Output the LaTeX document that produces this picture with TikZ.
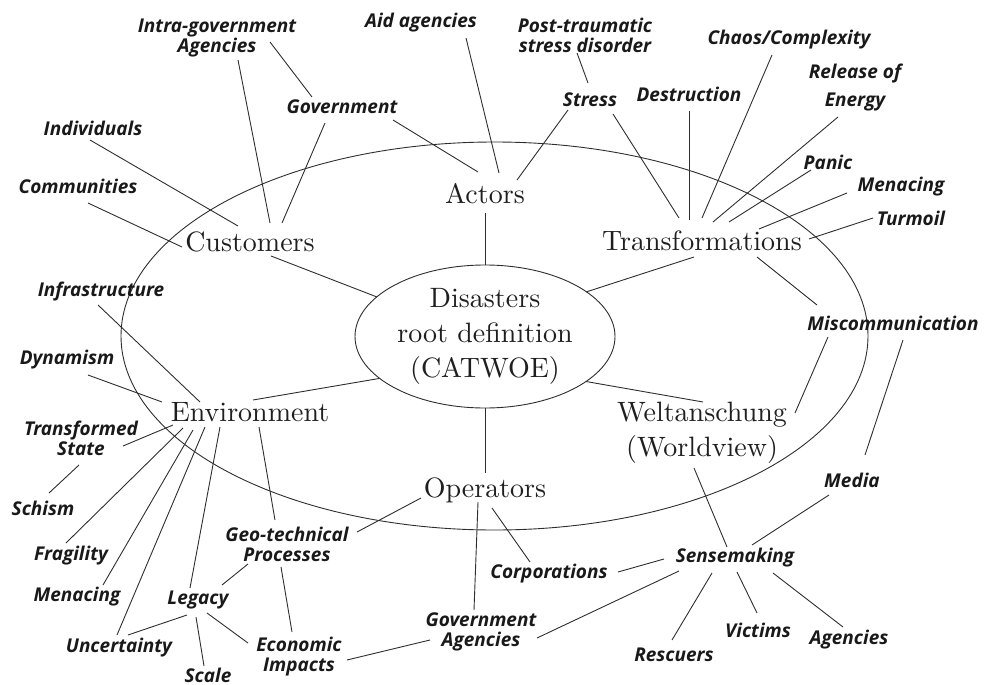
\documentclass[tikz,border=0pt]{standalone}
\usepackage{fontspec}
\newfontfamily\lblf{Open Sans}
\newfontfamily\serf{lmroman10-regular}[Extension=.otf]
\usetikzlibrary{calc}
\newcommand\conn[4]{\draw ($(#1)+(#2)$) -- ($(#3)+(#4)$);}
\begin{document}
\begin{tikzpicture}[x=1pt,y=-1pt,line width=0.9pt,color=black!82,
  ser/.style={font=\serf\fontsize{28}{35}\selectfont,align=center,inner sep=0pt,text=black!88},
  lbl/.style={font=\lblf\bfseries\itshape\fontsize{19}{20}\selectfont,align=center,inner sep=0pt,text=black!90}]
\useasboundingbox (0,0) rectangle (985,685);
% ellipses
\draw (494.5,336) ellipse [x radius=373.5, y radius=194];
\node[ser] (dis) at (485,336.5) {Disasters\\root definition\\(CATWOE)};
\draw (dis.center) ellipse [x radius=130, y radius=71.5];
% main nodes
\node[ser] (act) at (485,194) {Actors};
\node[ser] (cus) at (250,242) {Customers};
\node[ser] (tra) at (702,241) {Transformations};
\node[ser] (env) at (250,412) {Environment};
\node[ser] (ope) at (485,490) {Operators};
\node[ser] (wel) at (702,433) {Weltanschung\\(Worldview)};
% labels
\node[lbl] (intra) at (217,38) {Intra-government\\Agencies};
\node[lbl] (aid) at (421,23) {Aid agencies};
\node[lbl] (gov) at (342,107) {Government};
\node[lbl] (ind) at (93,128) {Individuals};
\node[lbl] (com) at (78,186) {Communities};
\node[lbl] (inf) at (101,292) {Infrastructure};
\node[lbl] (ptsd) at (585,35) {Post-traumatic\\stress disorder};
\node[lbl] (str) at (590,100) {Stress};
\node[lbl] (des) at (689,94) {Destruction};
\node[lbl] (cha) at (789,40) {Chaos/Complexity};
\node[lbl] (rel) at (855,88) {Release of\\[8pt]Energy};
\node[lbl] (pan) at (828,162) {Panic};
\node[lbl] (menr) at (901,187) {Menacing};
\node[lbl] (tur) at (911,218) {Turmoil};
\node[lbl] (mis) at (893,323) {Miscommunication};
\node[lbl] (med) at (852,480) {Media};
\node[lbl] (sen) at (735,558) {Sensemaking};
\node[lbl] (cor) at (549,574) {Corporations};
\node[lbl] (res) at (674,655) {Rescuers};
\node[lbl] (vic) at (758,630) {Victims};
\node[lbl] (age) at (849,640) {Agencies};
\node[lbl] (gag) at (481,632) {Government\\Agencies};
\node[lbl] (dyn) at (67,360) {Dynamism};
\node[lbl] (tst) at (81,438) {Transformed\\State};
\node[lbl] (sch) at (43,508) {Schism};
\node[lbl] (fra) at (71,556) {Fragility};
\node[lbl] (menl) at (77,597) {Menacing};
\node[lbl] (unc) at (119,648) {Uncertainty};
\node[lbl] (sca) at (208,675) {Scale};
\node[lbl] (leg) at (198,600) {Legacy};
\node[lbl] (eco) at (299,657) {Economic\\Impacts};
\node[lbl] (geo) at (287,544) {Geo-technical\\Processes};
% connectors
\conn{ind}{-3,12}{cus}{-12,-16}
\conn{com}{10,17}{cus}{-68,5}
\conn{intra}{21,22}{cus}{20,-19}
\conn{gov}{-17,16}{cus}{32,-19}
\conn{intra}{53,4}{gov}{-30,-10}
\conn{gov}{51,13}{act}{-7,-22}
\conn{cus}{21,14}{dis}{-108,-39.5}
\conn{aid}{45,15}{act}{14,-21}
\conn{act}{0,19}{dis}{0,-71.5}
\conn{str}{-22,10}{act}{32,-14}
\conn{ptsd}{-8,18}{str}{-2,-17}
\conn{str}{23,14}{tra}{-23,-23}
\conn{des}{0,17}{tra}{-13,-21}
\conn{cha}{-17,15}{tra}{0,-23}
\conn{rel}{-17,29}{tra}{11,-19}
\conn{pan}{-17,8}{tra}{27,-19}
\conn{menr}{-54,6}{tra}{57,-12}
\conn{tur}{-38,0}{tra}{107,-2}
\conn{tra}{-8,16}{dis}{101,-44.5}
\conn{tra}{55,16}{mis}{-76,-18}
\conn{mis}{-65,14}{wel}{93,-20}
\conn{mis}{10,17}{med}{13,-25}
\conn{dis}{101,45}{wel}{1,-31}
\conn{wel}{-8,35}{sen}{-8,-11}
\conn{med}{-23,15}{sen}{17,-13}
\conn{sen}{-71,1}{cor}{69,-2}
\conn{sen}{-56,13}{gag}{56,6}
\conn{sen}{-23,15}{res}{-2,-15}
\conn{sen}{2,14}{vic}{-1,-17}
\conn{sen}{38,15}{age}{-6,-13}
\conn{ope}{7,18}{cor}{-19,-12}
\conn{dis}{0,71.5}{ope}{0,-17}
\conn{ope}{-7,12}{gag}{-7,-22}
\conn{ope}{-64,8}{geo}{70,-12}
\conn{gag}{-51,8}{eco}{48,3}
\conn{dis}{-106,42}{env}{3,-12}
\conn{inf}{-3,13}{env}{-50,-10}
\conn{dyn}{21,15}{env}{-88,-10}
\conn{tst}{42,8}{env}{-77,13}
\conn{sch}{6,-15}{tst}{-2,27}
\conn{fra}{-5,-13}{env}{-67,16}
\conn{menl}{26,-12}{env}{-57,18}
\conn{unc}{-2,-13}{env}{-45,15}
\conn{leg}{-8,-12}{env}{-30,15}
\conn{env}{9,15}{geo}{-12,-24}
\conn{geo}{-39,20}{leg}{24,-15}
\conn{geo}{-6,23}{eco}{-7,-25}
\conn{leg}{-11,15}{unc}{9,-13}
\conn{leg}{-2,17}{sca}{-4,-9}
\conn{leg}{9,13}{eco}{-51,-14}
\end{tikzpicture}
\end{document}
